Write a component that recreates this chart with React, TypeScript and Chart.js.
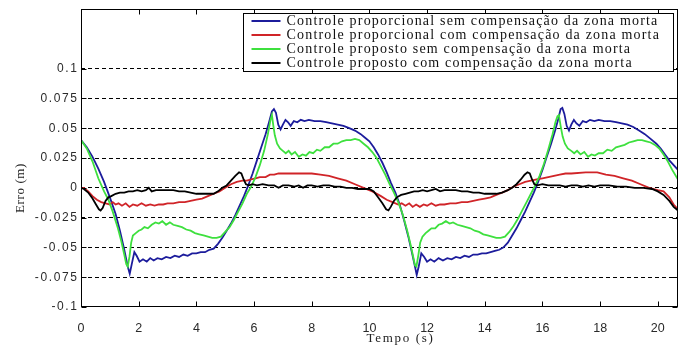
import React, { useEffect, useRef } from 'react';
import { Chart, registerables } from 'chart.js';
Chart.register(...registerables);

const seriesLabels = [
  'Controle proporcional sem compensação da zona morta',
  'Controle proporcional com compensação da zona morta',
  'Controle proposto sem compensação da zona morta',
  'Controle proposto com compensação da zona morta',
];
const seriesColors = ['#1c1c9c', '#d02428', '#3ee03e', '#000000'];

const xTicks = [0, 2, 4, 6, 8, 10, 12, 14, 16, 18, 20];
const yTicks = [-0.1, -0.075, -0.05, -0.025, 0, 0.025, 0.05, 0.075, 0.1];
const yTickLabels = ['-0.1', '-0.075', '-0.05', '-0.025', '0', '0.025', '0.05', '0.075', '0.1'];
const xTitle = 'Tempo (s)';
const yTitle = 'Erro (m)';

// Blue: proportional without dead-zone compensation
const blueT = [0, 0.2, 0.4, 0.6, 0.8, 1.0, 1.2, 1.35, 1.5, 1.62, 1.69, 1.76, 1.85, 1.93, 2.03, 2.15, 2.28, 2.4, 2.52, 2.65, 2.8, 2.95, 3.1, 3.25, 3.4, 3.55, 3.7, 3.85, 4.0, 4.15, 4.3, 4.45, 4.6, 4.75, 4.9, 5.05, 5.2, 5.35, 5.5, 5.65, 5.8, 5.95, 6.1, 6.25, 6.4, 6.52, 6.62, 6.69, 6.76, 6.84, 6.92, 7.0, 7.09, 7.18, 7.27, 7.38, 7.5, 7.62, 7.75, 7.9, 8.1, 8.3, 8.5, 8.7, 8.9, 9.1, 9.3, 9.5, 9.7, 9.85, 10.0, 10.15, 10.3, 10.45, 10.6, 10.75, 10.9, 11.05, 11.2, 11.35, 11.48, 11.58, 11.64, 11.71, 11.8, 11.9, 12.0, 12.12, 12.25, 12.4, 12.55, 12.7, 12.85, 13.0, 13.15, 13.3, 13.45, 13.6, 13.75, 13.9, 14.05, 14.2, 14.35, 14.5, 14.65, 14.8, 14.95, 15.1, 15.25, 15.4, 15.55, 15.7, 15.85, 16.0, 16.15, 16.3, 16.45, 16.55, 16.63, 16.69, 16.76, 16.84, 16.92, 17.0, 17.09, 17.18, 17.28, 17.4, 17.52, 17.65, 17.8, 17.95, 18.15, 18.35, 18.55, 18.75, 18.95, 19.15, 19.35, 19.55, 19.75, 19.95, 20.1, 20.25, 20.4, 20.55, 20.7];
const blueV = [0.04, 0.034, 0.026, 0.016, 0.005, -0.008, -0.022, -0.036, -0.052, -0.066, -0.072, -0.064, -0.054, -0.057, -0.062, -0.06, -0.062, -0.059, -0.061, -0.059, -0.06, -0.058, -0.059, -0.057, -0.058, -0.056, -0.057, -0.055, -0.055, -0.054, -0.054, -0.052, -0.051, -0.047, -0.042, -0.036, -0.03, -0.023, -0.015, -0.007, 0.002, 0.012, 0.023, 0.034, 0.045, 0.055, 0.064, 0.066, 0.063, 0.053, 0.049, 0.053, 0.057, 0.055, 0.052, 0.056, 0.055, 0.057, 0.056, 0.057, 0.056, 0.056, 0.055, 0.054, 0.053, 0.052, 0.05, 0.048, 0.045, 0.042, 0.039, 0.034, 0.028, 0.021, 0.013, 0.004, -0.004, -0.014, -0.027, -0.041, -0.055, -0.066, -0.073, -0.066, -0.055, -0.058, -0.062, -0.06, -0.062, -0.059, -0.061, -0.059, -0.06, -0.058, -0.059, -0.057, -0.058, -0.056, -0.056, -0.055, -0.055, -0.054, -0.053, -0.052, -0.05, -0.046, -0.04, -0.034, -0.027, -0.02, -0.012, -0.004, 0.005, 0.015, 0.026, 0.037, 0.049, 0.058, 0.066, 0.067, 0.062, 0.052, 0.048, 0.053, 0.057, 0.054, 0.052, 0.056, 0.055, 0.057, 0.056, 0.057, 0.056, 0.056, 0.055, 0.054, 0.053, 0.051, 0.048, 0.045, 0.041, 0.037, 0.033, 0.028, 0.023, 0.019, 0.015];

// Red: proportional with dead-zone compensation
const redT = [0, 0.1, 0.25, 0.4, 0.55, 0.7, 0.85, 1.0, 1.1, 1.2, 1.3, 1.42, 1.55, 1.68, 1.8, 1.95, 2.1, 2.25, 2.4, 2.55, 2.7, 2.85, 3.0, 3.2, 3.4, 3.6, 3.8, 4.0, 4.2, 4.4, 4.6, 4.8, 5.0, 5.2, 5.4, 5.6, 5.75, 5.9, 6.05, 6.2, 6.4, 6.55, 6.7, 6.85, 7.0, 7.5, 8.0, 8.3, 8.6, 8.9, 9.2, 9.5, 9.8, 10.1, 10.4, 10.6, 10.8, 11.0, 11.12, 11.25, 11.38, 11.5, 11.62, 11.75, 11.88, 12.0, 12.15, 12.3, 12.45, 12.6, 12.8, 13.0, 13.2, 13.4, 13.6, 13.8, 14.0, 14.2, 14.4, 14.6, 14.8, 15.0, 15.2, 15.4, 15.6, 15.8, 16.0, 16.2, 16.4, 16.6, 16.8, 17.0, 17.5, 17.9, 18.2, 18.5, 18.8, 19.1, 19.4, 19.7, 20.0, 20.2, 20.4, 20.55, 20.7];
const redV = [0, 0, -0.003, -0.007, -0.01, -0.012, -0.013, -0.014, -0.012, -0.014, -0.013, -0.015, -0.013, -0.016, -0.014, -0.015, -0.013, -0.015, -0.014, -0.015, -0.014, -0.014, -0.013, -0.013, -0.012, -0.012, -0.011, -0.01, -0.009, -0.007, -0.005, -0.003, 0, 0.003, 0.005, 0.006, 0.006, 0.007, 0.008, 0.009, 0.009, 0.011, 0.011, 0.012, 0.012, 0.012, 0.012, 0.011, 0.01, 0.008, 0.006, 0.003, 0, -0.003, -0.007, -0.01, -0.012, -0.014, -0.013, -0.015, -0.013, -0.016, -0.014, -0.016, -0.014, -0.015, -0.013, -0.015, -0.014, -0.014, -0.013, -0.013, -0.012, -0.012, -0.011, -0.01, -0.009, -0.008, -0.006, -0.004, -0.002, 0.001, 0.003, 0.005, 0.006, 0.007, 0.008, 0.009, 0.01, 0.011, 0.012, 0.012, 0.013, 0.013, 0.011, 0.01, 0.008, 0.006, 0.003, 0, -0.002, -0.003, -0.008, -0.014, -0.018];

// Green: proposed without dead-zone compensation
const greenT = [0, 0.2, 0.4, 0.6, 0.8, 0.95, 1.1, 1.28, 1.4, 1.5, 1.57, 1.62, 1.68, 1.74, 1.8, 1.9, 2.0, 2.1, 2.2, 2.32, 2.45, 2.58, 2.7, 2.82, 2.95, 3.08, 3.2, 3.35, 3.5, 3.65, 3.8, 3.95, 4.1, 4.25, 4.4, 4.55, 4.7, 4.85, 5.0, 5.15, 5.3, 5.45, 5.6, 5.75, 5.9, 6.05, 6.2, 6.35, 6.48, 6.57, 6.62, 6.67, 6.72, 6.8, 6.9, 7.0, 7.1, 7.2, 7.3, 7.42, 7.55, 7.68, 7.8, 7.92, 8.05, 8.18, 8.3, 8.45, 8.6, 8.75, 8.9, 9.05, 9.2, 9.35, 9.5, 9.65, 9.8, 9.95, 10.1, 10.25, 10.4, 10.55, 10.7, 10.85, 11.0, 11.15, 11.3, 11.42, 11.52, 11.58, 11.63, 11.7, 11.76, 11.84, 11.95, 12.05, 12.15, 12.28, 12.4, 12.52, 12.65, 12.78, 12.9, 13.05, 13.2, 13.35, 13.5, 13.65, 13.8, 13.95, 14.1, 14.25, 14.4, 14.55, 14.7, 14.85, 15.0, 15.15, 15.3, 15.45, 15.6, 15.75, 15.9, 16.05, 16.2, 16.35, 16.45, 16.52, 16.57, 16.63, 16.7, 16.78, 16.88, 17.0, 17.1, 17.2, 17.32, 17.45, 17.58, 17.7, 17.82, 17.95, 18.1, 18.25, 18.4, 18.55, 18.7, 18.85, 19.0, 19.15, 19.3, 19.45, 19.6, 19.75, 19.9, 20.05, 20.2, 20.35, 20.5, 20.7];
const greenV = [0.04, 0.033, 0.022, 0.008, -0.003, -0.01, -0.02, -0.034, -0.045, -0.056, -0.064, -0.066, -0.058, -0.046, -0.04, -0.038, -0.036, -0.035, -0.033, -0.034, -0.031, -0.029, -0.03, -0.028, -0.031, -0.029, -0.031, -0.032, -0.033, -0.035, -0.036, -0.038, -0.039, -0.04, -0.041, -0.042, -0.042, -0.041, -0.037, -0.033, -0.027, -0.02, -0.013, -0.005, 0.001, 0.009, 0.019, 0.031, 0.045, 0.057, 0.061, 0.052, 0.044, 0.037, 0.033, 0.031, 0.029, 0.031, 0.028, 0.03, 0.026, 0.028, 0.027, 0.03, 0.029, 0.032, 0.031, 0.034, 0.034, 0.037, 0.037, 0.039, 0.04, 0.04, 0.041, 0.04, 0.037, 0.034, 0.03, 0.025, 0.018, 0.011, 0.003, -0.004, -0.012, -0.022, -0.035, -0.047, -0.058, -0.065, -0.066, -0.056, -0.046, -0.041, -0.038, -0.036, -0.034, -0.034, -0.031, -0.03, -0.028, -0.03, -0.029, -0.031, -0.032, -0.033, -0.034, -0.036, -0.037, -0.039, -0.04, -0.041, -0.042, -0.042, -0.041, -0.037, -0.032, -0.026, -0.019, -0.012, -0.005, 0.002, 0.01, 0.02, 0.032, 0.045, 0.055, 0.06, 0.061, 0.052, 0.043, 0.037, 0.033, 0.031, 0.029, 0.031, 0.028, 0.03, 0.026, 0.028, 0.027, 0.029, 0.029, 0.032, 0.031, 0.034, 0.035, 0.036, 0.038, 0.039, 0.04, 0.04, 0.039, 0.038, 0.036, 0.033, 0.028, 0.022, 0.015, 0.007];

// Black: proposed with dead-zone compensation
const blackT = [0, 0.1, 0.25, 0.4, 0.52, 0.62, 0.68, 0.75, 0.85, 0.95, 1.05, 1.2, 1.35, 1.5, 1.65, 1.8, 1.95, 2.1, 2.25, 2.35, 2.45, 2.6, 2.8, 3.0, 3.2, 3.4, 3.6, 3.8, 4.0, 4.2, 4.4, 4.6, 4.75, 4.9, 5.05, 5.2, 5.35, 5.48, 5.56, 5.64, 5.72, 5.82, 5.95, 6.1, 6.3, 6.5, 6.7, 6.85, 7.0, 7.2, 7.4, 7.55, 7.7, 7.85, 8.0, 8.2, 8.4, 8.6, 8.8, 9.0, 9.2, 9.4, 9.6, 9.8, 10.0, 10.15, 10.3, 10.45, 10.58, 10.66, 10.74, 10.85, 10.95, 11.1, 11.25, 11.4, 11.55, 11.7, 11.85, 12.0, 12.15, 12.3, 12.45, 12.6, 12.8, 13.0, 13.2, 13.4, 13.6, 13.8, 14.0, 14.2, 14.4, 14.6, 14.8, 14.95, 15.1, 15.25, 15.38, 15.48, 15.56, 15.64, 15.72, 15.82, 16.0, 16.2, 16.4, 16.6, 16.8, 17.0, 17.2, 17.4, 17.6, 17.8, 18.0, 18.3, 18.6, 18.9, 19.2, 19.5, 19.8, 20.0, 20.2, 20.4, 20.55, 20.7];
const blackV = [0, -0.001, -0.004, -0.009, -0.014, -0.018, -0.019, -0.017, -0.011, -0.008, -0.007, -0.005, -0.004, -0.004, -0.003, -0.003, -0.002, -0.003, -0.002, 0, -0.003, -0.002, -0.002, -0.002, -0.002, -0.003, -0.003, -0.004, -0.005, -0.005, -0.005, -0.005, -0.003, 0, 0.002, 0.006, 0.01, 0.013, 0.012, 0.007, 0.003, 0.002, 0.003, 0.002, 0.003, 0.002, 0.002, 0, 0.002, 0.002, 0.001, 0.002, 0, 0.002, 0.002, 0.001, 0.002, 0.002, 0.001, 0.001, 0, 0, -0.001, -0.001, -0.001, -0.003, -0.008, -0.013, -0.018, -0.019, -0.016, -0.011, -0.008, -0.006, -0.005, -0.004, -0.003, -0.003, -0.002, -0.003, -0.002, -0.001, -0.003, -0.002, -0.002, -0.002, -0.003, -0.003, -0.004, -0.004, -0.005, -0.005, -0.005, -0.004, -0.002, 0, 0.003, 0.007, 0.011, 0.013, 0.012, 0.007, 0.003, 0.002, 0.003, 0.002, 0.002, 0.002, 0.001, 0.002, 0.002, 0.001, 0.002, 0.001, 0.002, 0.002, 0.001, 0.001, 0, 0, -0.001, -0.003, -0.006, -0.011, -0.016, -0.019];

const SERIF = '"Liberation Serif", "Times New Roman", serif';
const SANS = '"Liberation Sans", Arial, sans-serif';

function toPoints(ts: number[], vs: number[]) {
  return ts.map((t, i) => ({ x: t, y: vs[i] }));
}

function fitSpacing(ctx: CanvasRenderingContext2D, text: string, target: number) {
  ctx.letterSpacing = '0px';
  const w = ctx.measureText(text).width;
  return Math.max(0, (target - w) / text.length);
}

const decorPlugin = {
  id: 'decor',
  afterDraw(chart: any) {
    const { ctx, chartArea: a, scales } = chart;
    const xs = scales.x;
    const ys = scales.y;
    ctx.save();
    ctx.strokeStyle = '#000';
    ctx.lineWidth = 1;
    const L = Math.round(a.left) + 0.5;
    const R = Math.round(a.right) - 0.5;
    const T = Math.round(a.top) + 0.5;
    const B = Math.round(a.bottom) - 0.5;
    ctx.beginPath();
    for (const v of xTicks) {
      const px = Math.round(xs.getPixelForValue(v)) + 0.5;
      ctx.moveTo(px, B); ctx.lineTo(px, B - 5);
      ctx.moveTo(px, T); ctx.lineTo(px, T + 5);
    }
    for (const v of yTicks) {
      const py = Math.round(ys.getPixelForValue(v)) + 0.5;
      ctx.moveTo(L, py); ctx.lineTo(L + 5, py);
      ctx.moveTo(R, py); ctx.lineTo(R - 5, py);
    }
    ctx.stroke();
    ctx.strokeRect(L, T, R - L, B - T);

    // y tick labels
    ctx.fillStyle = '#2a2a2a';
    ctx.font = `12px ${SANS}`;
    ctx.textAlign = 'right';
    ctx.textBaseline = 'middle';
    ctx.letterSpacing = '1.6px';
    yTicks.forEach((v, i) => {
      const py = ys.getPixelForValue(v);
      ctx.fillText(yTickLabels[i], a.left - 2.5, py);
    });

    // axis titles
    ctx.fillStyle = '#222';
    ctx.font = `13px ${SERIF}`;
    ctx.textAlign = 'center';
    ctx.textBaseline = 'middle';
    let sp = fitSpacing(ctx, xTitle, 68);
    ctx.letterSpacing = `${sp}px`;
    ctx.fillText(xTitle, (a.left + a.right) / 2 + 21, 339);
    ctx.save();
    ctx.translate(21, (a.top + a.bottom) / 2 + 30);
    ctx.rotate(-Math.PI / 2);
    sp = fitSpacing(ctx, yTitle, 50);
    ctx.letterSpacing = `${sp}px`;
    ctx.fillText(yTitle, 0, 0);
    ctx.restore();

    // legend
    const bx = 243.5, by = 13.5, bw = 430, bh = 58;
    ctx.fillStyle = '#fff';
    ctx.fillRect(bx, by, bw, bh);
    ctx.strokeStyle = '#000';
    ctx.strokeRect(bx, by, bw, bh);
    ctx.font = `14px ${SERIF}`;
    ctx.textAlign = 'left';
    ctx.textBaseline = 'middle';
    const spL = fitSpacing(ctx, seriesLabels[0], 372);
    ctx.letterSpacing = `${spL}px`;
    seriesLabels.forEach((lab, i) => {
      const cy = by + 7.5 + i * 14;
      ctx.strokeStyle = seriesColors[i];
      ctx.lineWidth = 2;
      ctx.beginPath();
      ctx.moveTo(bx + 8, cy);
      ctx.lineTo(bx + 37, cy);
      ctx.stroke();
      ctx.fillStyle = '#111';
      ctx.fillText(lab, bx + 43, cy + 0.5);
    });
    ctx.restore();
  },
};

export default function App() {
  const ref = useRef<HTMLCanvasElement | null>(null);
  useEffect(() => {
    if (!ref.current) return;
    const series = [
      { t: blueT, v: blueV, order: 4 },
      { t: redT, v: redV, order: 3 },
      { t: greenT, v: greenV, order: 2 },
      { t: blackT, v: blackV, order: 1 },
    ];
    const chart = new Chart(ref.current, {
      type: 'line',
      data: {
        datasets: series.map((s, i) => ({
          label: seriesLabels[i],
          data: toPoints(s.t, s.v),
          borderColor: seriesColors[i],
          backgroundColor: seriesColors[i],
          borderWidth: 1.8,
          pointRadius: 0,
          tension: 0,
          fill: false,
          order: s.order,
        })),
      },
      options: {
        animation: false,
        responsive: false,
        maintainAspectRatio: false,
        events: [],
        layout: { padding: { top: 9, right: 2, left: 0, bottom: 0 } },
        plugins: { legend: { display: false }, tooltip: { enabled: false }, title: { display: false } },
        scales: {
          x: {
            type: 'linear',
            min: 0,
            max: 20.7,
            afterBuildTicks: (s: any) => { s.ticks = xTicks.map((v) => ({ value: v })); },
            afterFit: (s: any) => { s.height = 40; },
            grid: { display: false },
            border: { display: false },
            ticks: {
              padding: 6,
              color: '#2a2a2a',
              font: { family: SANS, size: 12.5 },
              maxRotation: 0,
              autoSkip: false,
              callback: (v: any) => String(v),
            },
          },
          y: {
            type: 'linear',
            min: -0.1,
            max: 0.15,
            afterBuildTicks: (s: any) => { s.ticks = yTicks.map((v) => ({ value: v })); },
            afterFit: (s: any) => { s.width = 81; },
            grid: {
              color: (c: any) => (c.tick && c.tick.value === -0.1 ? 'rgba(0,0,0,0)' : '#000'),
              lineWidth: 1,
              drawTicks: false,
            },
            border: { display: false, dash: [4, 3] },
            ticks: { display: false },
          },
        },
      },
      plugins: [decorPlugin],
    });
    return () => chart.destroy();
  }, []);
  return (
    <div style={{ position: 'absolute', left: 0, top: 0, width: 680, height: 347, background: '#fff' }}>
      <canvas ref={ref} width={680} height={347} style={{ display: 'block' }} />
    </div>
  );
}
